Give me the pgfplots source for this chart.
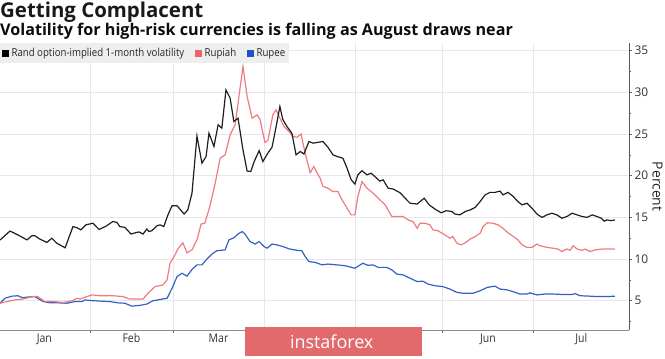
\documentclass[border=0pt]{standalone}
\usepackage{fontspec}
\setmainfont{Open Sans}
\newfontfamily\condfont{Open Sans}[FakeStretch=0.88]
\usepackage{pgfplots}
\pgfplotsset{compat=1.18}
\definecolor{randc}{HTML}{1E1E1E}
\definecolor{rupiahc}{HTML}{EE7B7D}
\definecolor{rupeec}{HTML}{3360C4}
\definecolor{rupiahsq}{HTML}{F26262}
\definecolor{rupeesq}{HTML}{1F4FD1}
\definecolor{gridc}{HTML}{E6E6EE}
\definecolor{legbg}{HTML}{EEEEEE}
\definecolor{wmred}{HTML}{E26A6D}
\begin{document}
\begin{tikzpicture}[x=1bp,y=1bp]
\useasboundingbox (0,-28) rectangle (665,330);
\begin{axis}[
  at={(0,0)}, anchor=south west,
  scale only axis, width=629bp, height=286.7bp,
  xmin=0.3, xmax=152, ymin=1.49, ymax=35.88,
  axis x line*=bottom, axis y line*=right,
  x axis line style={color=black!45, line width=0.6pt},
  y axis line style={color=black!65, line width=0.8pt},
  tick align=outside,
  xtick={22,42,64,86,107,129}, xticklabels={},
  major tick length=3bp, minor tick length=2bp,
  tick style={color=black!60, line width=0.6pt},
  extra x ticks={11,32,53,118,140.5},
  extra x tick labels={Jan,Feb,Mar,Jun,Jul},
  extra x tick style={major tick length=0pt, grid=none},
  xticklabel style={font=\condfont\fontsize{12}{12}\selectfont, color=black!80, yshift=0bp},
  ytick={5,10,15,20,25,30,35},
  minor ytick={2.5,7.5,12.5,17.5,22.5,27.5,32.5},
  yticklabel style={font=\fontsize{12}{12}\selectfont, color=black!80, xshift=-1bp},
  /pgf/number format/assume math mode=true,
  xmajorgrids, ymajorgrids,
  major grid style={color=gridc, line width=0.6pt},
  ylabel={Percent},
  ylabel style={font=\fontsize{14}{14}\selectfont, color=black!85, at={(axis description cs:1.0453,0.5)}, anchor=center, rotate=180},
  legend style={at={(0,1)}, anchor=north west, fill=legbg, draw=none,
    font=\condfont\fontsize{11}{13}\selectfont, text=black!85,
    inner xsep=2bp, inner ysep=3bp, legend columns=3,
    /tikz/every odd column/.append style={column sep=1bp},
    /tikz/every even column/.append style={column sep=9bp}},
  legend cell align=left,
]
\addlegendimage{legend image code/.code={\fill[black] (0bp,-3bp) rectangle (6bp,3bp);}}
\addlegendentry{Rand option-implied 1-month volatility}
\addlegendimage{legend image code/.code={\fill[rupiahsq] (0bp,-3bp) rectangle (6bp,3bp);}}
\addlegendentry{Rupiah}
\addlegendimage{legend image code/.code={\fill[rupeesq] (0bp,-3bp) rectangle (6bp,3bp);}}
\addlegendentry{Rupee}
% Rupee
\addplot[rupeec, line width=1.2pt, forget plot] coordinates {
(0.3,4.7)(1.5,5.3)(3.2,5.55)(4.6,5.6)(5.8,5.35)(7.0,5.45)(8.7,5.5)(10.7,4.9)(12.4,4.75)(14.3,4.75)
(16.4,4.7)(18.4,4.9)(20.1,4.9)(20.8,5.1)(22.7,5.0)(26.8,4.9)(28.7,4.75)(30.4,4.7)(32.1,4.35)(34.1,4.45)
(35.7,4.6)(37.2,5.0)(38.9,5.15)(40.6,5.3)(41.8,6.5)(43.0,7.9)(44.2,8.3)(45.4,7.95)(46.6,8.75)(47.8,9.3)
(49.0,9.3)(50.2,10.0)(51.4,10.6)(52.6,11.0)(54.6,11.1)(55.5,12.3)(56.7,12.55)(57.7,13.0)(58.7,13.3)(59.4,13.0)
(60.6,12.1)(61.8,11.8)(62.8,12.1)(64.0,11.5)(64.7,11.3)(65.9,11.8)(67.1,11.7)(68.5,11.5)(70.2,11.2)(71.9,11.05)
(73.1,11.0)(73.9,10.3)(74.8,9.7)(76.3,9.6)(78.0,9.3)(79.4,9.4)(81.6,9.3)(83.5,9.2)(85.9,8.9)(87.8,9.5)
(89.0,9.25)(90.3,9.3)(91.5,9.0)(93.6,9.0)(94.8,8.7)(96.0,8.2)(97.5,8.1)(99.2,7.7)(100.9,7.3)(102.3,7.35)
(103.5,7.0)(105.2,6.8)(107.1,6.7)(108.8,6.4)(110.5,6.0)(112.0,5.9)(114.4,5.9)(116.1,6.2)(117.8,6.6)(119.7,6.75)
(120.9,6.4)(122.6,6.3)(124.0,6.1)(125.7,5.8)(127.4,5.8)(128.1,5.95)(129.8,5.7)(131.7,5.8)(133.7,5.8)(136.1,5.75)
(138.3,5.75)(139.0,5.85)(140.2,5.6)(142.6,5.55)(144.3,5.5)(146.7,5.5)(148.6,5.55)
};
% Rupiah
\addplot[rupiahc, line width=1.2pt, forget plot] coordinates {
(0.3,4.7)(2.0,4.9)(3.9,5.1)(5.8,5.2)(8.2,5.5)(9.4,5.5)(11.1,4.9)(13.1,4.9)(15.5,4.8)(17.7,5.0)
(18.9,5.3)(19.6,5.2)(21.3,5.5)(22.5,5.7)(24.4,5.6)(27.5,5.6)(30.0,5.5)(31.6,5.2)(34.8,5.2)(36.0,5.9)
(37.7,6.7)(39.6,6.9)(40.6,7.5)(41.3,9.5)(42.3,10.3)(43.2,11.2)(44.4,11.95)(45.4,10.75)(46.6,11.1)(47.8,12.3)
(48.8,14.2)(49.7,14.3)(50.9,16.3)(52.2,19.1)(53.4,22.1)(54.6,22.5)(55.8,24.9)(57.0,26.1)(58.9,33.1)(59.9,29.5)
(61.1,26.9)(62.3,27.3)(63.0,26.75)(64.2,24.0)(64.9,24.2)(66.1,27.3)(66.9,27.9)(67.6,27.1)(68.8,25.9)(69.8,25.4)
(71.0,24.7)(71.9,24.6)(72.9,25.0)(73.9,22.7)(75.1,20.35)(76.0,21.1)(76.8,20.3)(77.5,19.7)(78.2,18.7)(79.4,18.5)
(80.6,18.1)(81.8,18.1)(82.8,17.1)(84.0,16.1)(85.0,15.3)(85.9,15.3)(86.6,17.5)(87.6,19.3)(88.8,18.5)(90.3,17.9)
(91.5,17.3)(93.2,16.5)(94.8,15.1)(97.5,15.1)(98.7,14.7)(99.9,14.5)(100.9,13.7)(101.6,14.3)(102.8,14.3)(104.0,14.1)
(104.7,13.5)(105.9,13.4)(107.6,12.9)(108.8,12.5)(109.5,12.7)(110.5,11.9)(111.5,11.7)(112.5,11.95)(113.7,12.4)(114.9,12.7)
(116.1,13.1)(116.8,13.9)(117.8,14.35)(119.2,14.3)(120.4,14.1)(121.6,13.7)(122.8,13.15)(124.0,12.75)(125.2,12.3)(126.2,11.7)
(127.4,11.4)(128.6,11.4)(129.8,11.8)(130.5,11.6)(132.2,11.4)(133.7,11.3)(134.9,11.2)(135.8,10.9)(137.0,11.2)(137.8,11.05)
(138.5,11.6)(139.5,11.2)(140.7,11.05)(141.4,11.2)(142.6,10.9)(143.8,11.1)(145.5,11.2)(146.9,11.2)(148.6,11.2)
};
% Rand
\addplot[randc, line width=1.2pt, forget plot] coordinates {
(0.3,12.28)(2.7,13.36)(4.6,12.9)(6.8,12.3)(8.0,12.8)(8.7,12.8)(9.9,12.4)(11.6,12.0)(12.8,12.5)(14.0,11.9)
(16.0,11.35)(17.9,13.9)(18.9,13.75)(19.8,13.5)(21.0,14.1)(22.7,14.3)(24.2,13.55)(25.9,13.95)(27.5,14.5)(28.5,14.4)
(29.2,13.9)(30.4,13.8)(31.9,13.0)(33.3,13.2)(33.8,13.25)(34.8,13.0)(35.7,13.6)(36.2,13.3)(36.9,13.4)(38.2,14.0)
(38.9,14.1)(39.8,13.9)(40.8,15.3)(41.8,16.4)(43.0,16.4)(44.7,15.4)(45.6,15.9)(46.6,17.9)(47.8,24.75)(49.0,21.5)
(50.0,22.3)(50.7,25.1)(51.9,23.5)(52.9,26.1)(53.8,25.7)(54.8,30.3)(55.8,29.3)(56.7,26.5)(57.7,26.9)(58.9,23.1)
(59.9,20.55)(60.8,20.5)(61.6,21.7)(62.8,23.0)(63.7,21.7)(64.9,22.7)(65.9,23.4)(66.9,25.9)(67.8,28.3)(68.5,26.75)
(69.5,25.9)(70.7,25.1)(71.7,22.5)(72.7,22.9)(73.6,22.6)(74.8,24.1)(75.8,23.9)(77.0,24.0)(78.2,24.1)(79.4,23.4)
(80.6,22.5)(81.6,22.3)(83.0,22.1)(84.0,20.9)(85.0,19.5)(85.9,19.0)(86.6,20.1)(87.6,20.6)(88.8,20.1)(89.8,20.3)
(90.7,19.9)(91.9,19.35)(92.7,19.5)(93.9,18.5)(95.1,18.4)(96.8,17.95)(98.0,17.3)(99.2,16.7)(100.9,16.6)(102.6,17.3)
(103.8,16.5)(105.2,16.0)(106.7,15.55)(107.9,15.8)(109.3,15.7)(110.0,15.4)(111.2,15.3)(112.5,15.7)(113.7,15.9)(114.9,16.2)
(116.1,16.9)(117.3,17.7)(118.5,18.0)(119.7,18.0)(120.9,18.15)(121.6,17.7)(122.8,18.0)(124.0,17.55)(125.2,16.9)(126.2,16.5)
(127.4,16.7)(128.6,16.1)(129.8,15.4)(131.0,15.0)(132.2,15.3)(133.4,15.5)(134.6,15.3)(135.8,14.9)(137.0,15.1)(138.3,15.5)
(139.5,15.3)(140.7,15.1)(141.9,15.0)(143.1,15.3)(144.3,15.1)(145.3,14.9)(146.0,14.55)(146.7,14.7)(147.7,14.6)(148.6,14.7)
};
\end{axis}
\node[anchor=base west, inner sep=0pt, font=\bfseries\fontsize{20.5}{21}\selectfont, text=black!90] at (0,313) {Getting Complacent};
\node[anchor=base west, inner sep=0pt, font=\bfseries\fontsize{16.2}{17}\selectfont, text=black!95] at (0,295) {Volatility for high-risk currencies is falling as August draws near};
\fill[wmred] (245,2.7) rectangle (421.7,-26);
\node[anchor=center, inner sep=0pt, text=white, font=\fontsize{18}{18}\selectfont] at (331.7,-11.7) {instaforex};
\end{tikzpicture}
\end{document}
